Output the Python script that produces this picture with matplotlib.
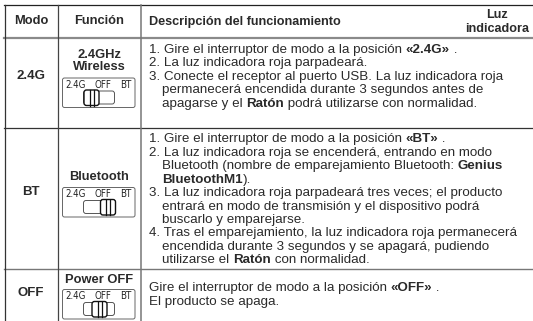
import matplotlib
matplotlib.use('Agg')
import matplotlib.pyplot as plt
from matplotlib.patches import FancyBboxPatch

plt.rcParams['font.family'] = ['Liberation Sans', 'DejaVu Sans']

W, H = 533, 321
FS = 9.65
FS_HEAD = 9.1
FS_BOLD = 9.3
INK = '#2a2a2a'

headers = ['Modo', 'Función', 'Descripción del funcionamiento']
light_header = ['Luz', 'indicadora']
modes = ['2.4G', 'BT', 'OFF']
functions = [['2.4GHz', 'Wireless'], ['Bluetooth'], ['Power OFF']]
switch_labels = ['2.4G', 'OFF', 'BT']
switch_pos = ['left', 'right', 'mid']

# (text, bold) pieces per line, with y of the line
desc_2g = [
    (50, 149, [('1. Gire el interruptor de modo a la posición ', 0), ('«2.4G»', 1), (' .', 0)]),
    (63, 149, [('2. La luz indicadora roja parpadeará.', 0)]),
    (76.5, 149, [('3. Conecte el receptor al puerto USB. La luz indicadora roja', 0)]),
    (90, 162, [('permanecerá encendida durante 3 segundos antes de', 0)]),
    (103.5, 162, [('apagarse y el ', 0), ('Ratón', 1), (' podrá utilizarse con normalidad.', 0)]),
]
desc_bt = [
    (139, 149, [('1. Gire el interruptor de modo a la posición ', 0), ('«BT»', 1), (' .', 0)]),
    (152.5, 149, [('2. La luz indicadora roja se encenderá, entrando en modo', 0)]),
    (166, 162, [('Bluetooth (nombre de emparejamiento Bluetooth: ', 0), ('Genius', 1)]),
    (179.5, 162, [('BluetoothM1', 1), (').', 0)]),
    (193, 149, [('3. La luz indicadora roja parpadeará tres veces; el producto', 0)]),
    (206.5, 162, [('entrará en modo de transmisión y el dispositivo podrá', 0)]),
    (220, 162, [('buscarlo y emparejarse.', 0)]),
    (233, 149, [('4. Tras el emparejamiento, la luz indicadora roja permanecerá', 0)]),
    (246.5, 162, [('encendida durante 3 segundos y se apagará, pudiendo', 0)]),
    (260, 162, [('utilizarse el ', 0), ('Ratón', 1), (' con normalidad.', 0)]),
]
desc_off = [
    (287.5, 149, [('Gire el interruptor de modo a la posición ', 0), ('«OFF»', 1), (' .', 0)]),
    (301.5, 149, [('El producto se apaga.', 0)]),
]

fig = plt.figure(figsize=(W / 100, H / 100), dpi=100)
ax = fig.add_axes([0, 0, 1, 1])
ax.set_xlim(0, W)
ax.set_ylim(H, 0)
ax.axis('off')

# table lines
ax.plot([4, W], [5, 5], color='#222222', lw=0.9)
ax.plot([4, W], [37.5, 37.5], color='#8a8a8a', lw=1.6)
ax.plot([4, W], [128, 128], color='#333333', lw=0.9)
ax.plot([4, W], [269, 269], color='#777777', lw=1.0)
ax.plot([4.5, 4.5], [5, H], color='#333333', lw=0.9)
ax.plot([57.5, 57.5], [5, H], color='#444444', lw=0.9)
ax.plot([140.5, 140.5], [5, H], color='#777777', lw=1.1)


def put_line(y, x, parts):
    r = fig.canvas.get_renderer()
    for s, bold in parts:
        # baseline sits about 3 px under the middle of the lowercase letters
        t = ax.text(x, y + 3.3, s, fontsize=FS, color=INK, va='baseline', ha='left',
                    fontweight='bold' if bold else 'normal')
        x += t.get_window_extent(r).width


def switch(y0, pos):
    ax.add_patch(FancyBboxPatch((62.5, y0), 72.5, 29.5, boxstyle='round,pad=0,rounding_size=2',
                                fc='white', ec='#666666', lw=0.7))
    for name, x in zip(switch_labels, [75.5, 103, 126]):
        ax.text(x, y0 + 6.5, name, fontsize=7, color='#222222', ha='center', va='center',
                family='DejaVu Sans', stretch='condensed')
    ax.add_patch(FancyBboxPatch((83.5, y0 + 13), 31, 13, boxstyle='round,pad=0,rounding_size=2.5',
                                fc='white', ec='#555555', lw=0.7))
    kx = {'left': 84, 'mid': 92, 'right': 100.5}[pos]
    ax.add_patch(FancyBboxPatch((kx, y0 + 12), 15, 15.5, boxstyle='round,pad=0,rounding_size=2.5',
                                fc='white', ec='#111111', lw=1.0))
    ax.plot([kx + 5.5, kx + 5.5], [y0 + 12, y0 + 27.5], color='#111111', lw=0.9)
    ax.plot([kx + 9.5, kx + 9.5], [y0 + 12, y0 + 27.5], color='#111111', lw=0.9)


# header
ax.text(31, 21.5, headers[0], fontsize=FS_BOLD, fontweight='bold', color=INK, ha='center', va='center')
ax.text(99, 21.5, headers[1], fontsize=FS_BOLD, fontweight='bold', color=INK, ha='center', va='center')
ax.text(149, 21.5, headers[2], fontsize=FS_HEAD, fontweight='bold', color=INK, ha='left', va='center')
ax.text(497, 15, light_header[0], fontsize=FS_HEAD, fontweight='bold', color=INK, ha='center', va='center')
ax.text(497, 29, light_header[1], fontsize=FS_HEAD, fontweight='bold', color=INK, ha='center', va='center')

# mode column
for name, y in zip(modes, [76, 192, 293]):
    ax.text(31, y, name, fontsize=FS_BOLD + 0.2, fontweight='bold', color=INK, ha='center', va='center')

# function column
for lines, ys in zip(functions, [[55, 67], [177], [280]]):
    for s, y in zip(lines, ys):
        ax.text(99, y, s, fontsize=FS_BOLD, fontweight='bold', color=INK, ha='center', va='center')

for y0, pos in zip([78, 187.5, 289.5], switch_pos):
    switch(y0, pos)

for block in [desc_2g, desc_bt, desc_off]:
    for y, x, parts in block:
        put_line(y, x, parts)

fig.savefig('out.png', dpi=100)
